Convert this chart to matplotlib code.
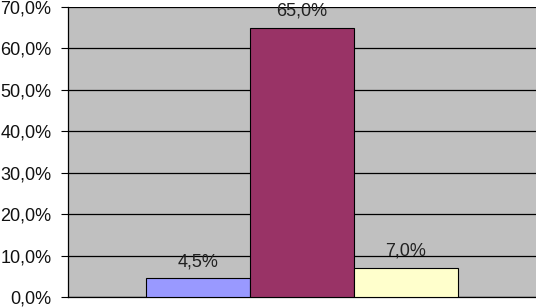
import matplotlib.pyplot as plt
from matplotlib.ticker import FuncFormatter, MultipleLocator

series = ["Serie 1", "Serie 2", "Serie 3"]
values = [4.5, 65.0, 7.0]
colors = ["#9999FF", "#993366", "#FFFFCC"]

plt.rcParams["font.family"] = ["Liberation Sans", "DejaVu Sans"]

fig = plt.figure(figsize=(5.36, 3.07), dpi=100)
ax = fig.add_axes([68 / 536, 10 / 307, 468 / 536, 290 / 307])
ax.set_facecolor("#C0C0C0")

pos = [-1, 0, 1]
ax.bar(pos, values, width=1.0, color=colors, edgecolor="black", linewidth=0.8, zorder=3)
for x, v in zip(pos, values):
    ax.annotate(f"{v:.1f}%".replace(".", ","), (x, v), xytext=(0, 6),
                textcoords="offset points", ha="center", va="bottom", fontsize=13, color="#222222")

ax.set_xlim(-2.25, 2.25)
ax.set_ylim(0, 70)
ax.yaxis.set_major_locator(MultipleLocator(10))
ax.yaxis.set_major_formatter(FuncFormatter(lambda v, p: f"{v:.1f}%".replace(".", ",")))
ax.grid(axis="y", color="black", linewidth=0.9, zorder=1)
ax.set_xticks([])
ax.tick_params(axis="y", length=5, width=0.8, labelsize=13, pad=7, labelcolor="#111111")
for s in ["top", "right"]:
    ax.spines[s].set_visible(False)
ax.spines["left"].set_linewidth(0.9)
ax.spines["bottom"].set_linewidth(0.9)

fig.savefig("out.png", dpi=100)
